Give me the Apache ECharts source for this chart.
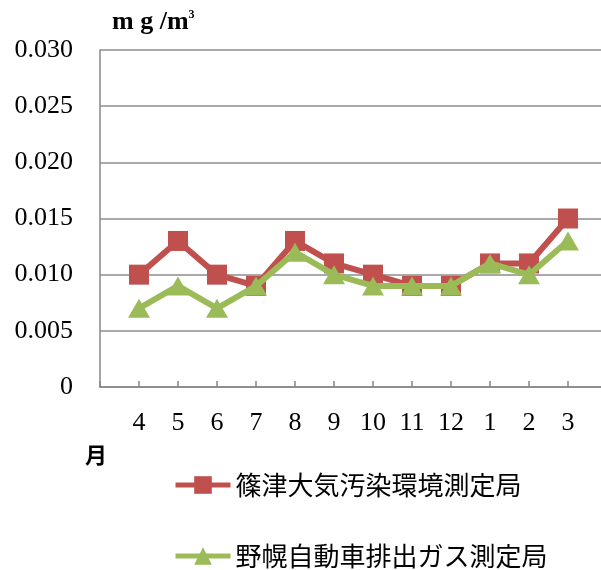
<!DOCTYPE html>
<html>
<head>
<meta charset="utf-8">
<script src="https://cdn.jsdelivr.net/npm/echarts@6/dist/echarts.min.js"></script>
<style>
html,body{margin:0;padding:0;background:#fff;}
#chart{width:601px;height:570px;}
</style>
</head>
<body>
<div id="chart"></div>
<script>
const months = ['4','5','6','7','8','9','10','11','12','1','2','3'];
const shinotsu = [0.010,0.013,0.010,0.009,0.013,0.011,0.010,0.009,0.009,0.011,0.011,0.015];
const nopporo = [0.007,0.009,0.007,0.009,0.012,0.010,0.009,0.009,0.009,0.011,0.010,0.013];
const seriesNames = ['篠津大気汚染環境測定局','野幌自動車排出ガス測定局'];
const yTickLabels = ['0','0.005','0.010','0.015','0.020','0.025','0.030'];

const cats = [''].concat(months);
const pad = arr => [null].concat(arr);

const chart = echarts.init(document.getElementById('chart'));
const serif = 'Liberation Serif';
const axisGray = '#878787';
const legendBase = {
  orient: 'vertical', left: 173, padding: 0,
  itemWidth: 55, itemHeight: 22,
  lineStyle: {width: 5},
  textStyle: {fontFamily: 'Noto Sans CJK JP', fontSize: 26, color: '#000'}
};
chart.setOption({
  animation: false,
  backgroundColor: '#fff',
  grid: [
    {left: 100, top: 50, width: 501, bottom: 183},
    {left: 100, top: 50, width: 468, bottom: 183}
  ],
  xAxis: [
    {
      gridIndex: 0, type: 'value', min: 0, max: 1,
      axisLine: {show: true, lineStyle: {color: axisGray, width: 1.5}},
      axisTick: {show: false}, axisLabel: {show: false}, splitLine: {show: false}
    },
    {
      gridIndex: 1, type: 'category', data: cats, boundaryGap: false,
      axisLine: {show: false},
      axisTick: {show: true, inside: true, length: 6, interval: 0, lineStyle: {color: axisGray, width: 1.5}},
      axisLabel: {interval: 0, margin: 23, fontFamily: serif, fontSize: 26, color: '#000'},
      splitLine: {show: false}
    }
  ],
  yAxis: [
    {
      gridIndex: 0, type: 'value', min: 0, max: 0.03, interval: 0.005,
      axisLine: {show: true, lineStyle: {color: axisGray, width: 1.5}},
      axisTick: {show: false},
      axisLabel: {
        margin: 27, fontFamily: serif, fontSize: 26, color: '#000',
        formatter: v => yTickLabels[Math.round(v / 0.005)]
      },
      splitLine: {show: true, lineStyle: {color: '#8c8c8c', width: 1.5}}
    },
    {
      gridIndex: 1, type: 'value', min: 0, max: 0.03, interval: 0.005,
      show: false
    }
  ],
  legend: [
    Object.assign({}, legendBase, {top: 472, data: [seriesNames[0]]}),
    Object.assign({}, legendBase, {top: 543, data: [seriesNames[1]]})
  ],
  graphic: [
    {type: 'text', left: 112, top: 9, style: {
      text: 'm g /m{s|3}',
      rich: {s: {fontSize: 12, fontFamily: serif, fontWeight: 'bold', verticalAlign: 'top', padding: [0,0,13,0]}},
      fontFamily: serif, fontWeight: 'bold', fontSize: 26, fill: '#000'
    }},
    {type: 'text', left: 85, top: 444, style: {
      text: '月', fontFamily: 'Noto Sans CJK JP', fontWeight: 'bold', fontSize: 22, fill: '#000'
    }}
  ],
  series: [
    {
      name: seriesNames[0], type: 'line', data: pad(shinotsu),
      xAxisIndex: 1, yAxisIndex: 1,
      symbol: 'rect', symbolSize: 20, showSymbol: true,
      lineStyle: {color: '#C0504D', width: 6},
      itemStyle: {color: '#C0504D'},
      z: 2
    },
    {
      name: seriesNames[1], type: 'line', data: pad(nopporo),
      xAxisIndex: 1, yAxisIndex: 1,
      symbol: 'triangle', symbolSize: [22, 19], showSymbol: true,
      lineStyle: {color: '#9BBB59', width: 6},
      itemStyle: {color: '#9BBB59'},
      z: 3
    }
  ]
});
</script>
</body>
</html>
